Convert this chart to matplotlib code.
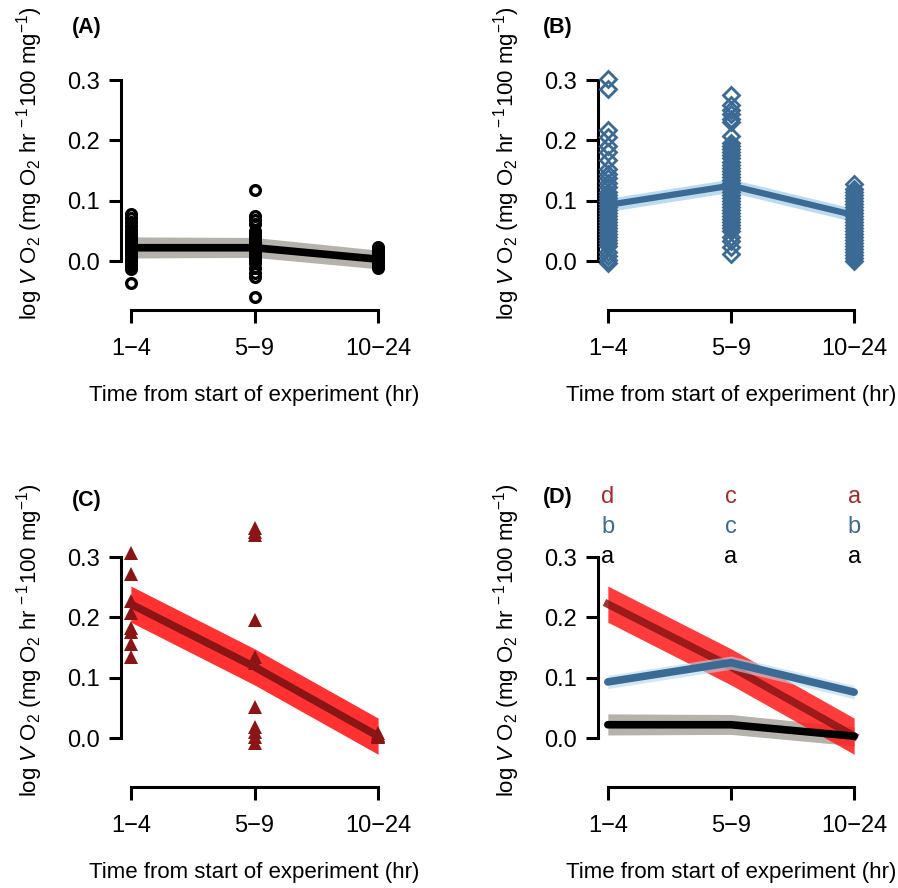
import matplotlib
matplotlib.use("Agg")
import matplotlib.pyplot as plt
import numpy as np

plt.rcParams['font.family'] = ['Liberation Sans', 'DejaVu Sans']
plt.rcParams['mathtext.fontset'] = 'custom'
plt.rcParams['mathtext.rm'] = 'Liberation Sans'
plt.rcParams['mathtext.it'] = 'Liberation Sans:italic'

# time groups
groups = ["1\u22124", "5\u22129", "10\u221224"]
xpos = [1, 2, 3]

# panel A (black, circles)
a_1 = [0.078, 0.072, 0.065, 0.058, 0.052, 0.048, 0.044, 0.040, 0.036, 0.033, 0.030, 0.027,
       0.024, 0.021, 0.018, 0.015, 0.012, 0.009, 0.006, 0.003, 0.000, -0.003, -0.006,
       -0.010, -0.014, -0.037]
a_2 = [0.118, 0.075, 0.068, 0.062, 0.050, 0.045, 0.040, 0.035, 0.030, 0.026, 0.022, 0.018,
       0.014, 0.010, 0.006, 0.002, -0.004, -0.012, -0.020, -0.026, -0.060]
a_3 = [0.024, 0.018, 0.014, 0.010, 0.006, 0.003, 0.000, -0.004, -0.008, -0.012]
a_mean = [0.022, 0.022, 0.003]
a_lo = [0.005, 0.006, -0.013]
a_hi = [0.040, 0.039, 0.018]

# panel B (blue, diamonds)
b_1 = [0.302, 0.285, 0.218, 0.205, 0.190, 0.180, 0.168, 0.152, 0.145, 0.138, 0.130, 0.122,
       0.115, 0.110, 0.105, 0.100, 0.095, 0.090, 0.085, 0.080, 0.075, 0.070, 0.065, 0.060,
       0.055, 0.050, 0.045, 0.040, 0.035, 0.030, 0.025, 0.015, 0.008, 0.002, -0.003]
b_2 = [0.275, 0.258, 0.250, 0.243, 0.236, 0.230, 0.208, 0.195, 0.190, 0.185, 0.180, 0.175,
       0.170, 0.165, 0.160, 0.155, 0.150, 0.145, 0.140, 0.135, 0.130, 0.125, 0.120, 0.115,
       0.110, 0.105, 0.100, 0.095, 0.090, 0.085, 0.080, 0.075, 0.070, 0.065, 0.060, 0.055,
       0.050, 0.040, 0.033, 0.024, 0.012]
b_3 = [0.128, 0.120, 0.115, 0.110, 0.105, 0.100, 0.095, 0.090, 0.085, 0.080, 0.075, 0.070,
       0.065, 0.060, 0.055, 0.050, 0.045, 0.040, 0.035, 0.030, 0.025, 0.020, 0.015, 0.010,
       0.005, 0.000]
b_mean = [0.093, 0.125, 0.076]
b_lo = [0.082, 0.114, 0.065]
b_hi = [0.104, 0.136, 0.087]

# panel C (red, triangles)
c_1 = [0.307, 0.272, 0.228, 0.207, 0.182, 0.176, 0.156, 0.135]
c_2 = [0.348, 0.342, 0.336, 0.196, 0.135, 0.124, 0.052, 0.019, 0.010, 0.002, -0.008]
c_3 = [0.008, 0.005, 0.003, 0.001]
c_mean = [0.222, 0.118, 0.003]
c_lo = [0.192, 0.088, -0.027]
c_hi = [0.252, 0.148, 0.033]

# significance letters for panel D
letters_red = ["d", "c", "a"]
letters_blue = ["b", "c", "b"]
letters_black = ["a", "a", "a"]

W, H = 898, 888
fig = plt.figure(figsize=(W / 100, H / 100), dpi=100)

ylo, yhi = -0.081, 0.395
ppu = 603.0  # pixels per y unit
FS = 17
LFS = 16


def make_ax(left_px, right_px, zero_px):
    bottom_px = zero_px - ylo * ppu
    top_px = zero_px - yhi * ppu
    ax = fig.add_axes([left_px / W, 1 - bottom_px / H,
                       (right_px - left_px) / W, (bottom_px - top_px) / H])
    ax.set_xlim(0.92, 3.08)
    ax.set_ylim(ylo, yhi)
    ax.patch.set_alpha(0)
    for s in ["top", "right"]:
        ax.spines[s].set_visible(False)
    ax.spines["left"].set_bounds(0, 0.3)
    ax.spines["bottom"].set_bounds(1, 3)
    for s in ["left", "bottom"]:
        ax.spines[s].set_linewidth(2.2)
    ax.set_yticks([0, 0.1, 0.2, 0.3])
    ax.set_yticklabels(["0.0", "0.1", "0.2", "0.3"])
    ax.set_xticks(xpos)
    ax.set_xticklabels(groups)
    ax.tick_params(axis="y", length=9, width=2.2, pad=6, labelsize=FS)
    ax.tick_params(axis="x", length=9, width=2.2, pad=11, labelsize=FS)
    return ax


def decorate(left_px, right_px, zero_px, tag, tagx, tagy):
    bottom_px = zero_px - ylo * ppu
    top_px = zero_px - yhi * ppu
    cx = (left_px + right_px) / 2
    fig.text(cx / W, 1 - (bottom_px + 86) / H, "Time from start of experiment (hr)",
             ha="center", va="center", fontsize=LFS)
    fig.text((left_px - 91) / W, 1 - ((bottom_px + top_px) / 2 - 3) / H,
             r"log $V$ O$_2$ (mg O$_2$ hr$^{\,-1}$100 mg$^{-1}$)",
             rotation=90, ha="center", va="center", fontsize=LFS)
    fig.text(tagx / W, 1 - tagy / H, tag, ha="left", va="center",
             fontsize=15.5, fontweight="bold")


def draw_band(ax, mean, lo, hi, fc, lc, falpha=1.0, lalpha=1.0, z=1, lw=5.5):
    ax.fill_between(xpos, lo, hi, color=fc, alpha=falpha, lw=0, zorder=z)
    ax.plot(xpos, mean, color=lc, lw=lw, alpha=lalpha, solid_capstyle="round", zorder=z + 0.5)


black_band = "#b4b2aa"
blue_line = "#3b6a94"
blue_band = "#b5d8ee"
red_band = "#ff1a1a"
red_line = "#8b1515"

# (A)
axA = make_ax(121, 388, 261)
draw_band(axA, a_mean, a_lo, a_hi, black_band, "black")
for x, vals in zip(xpos, [a_1, a_2, a_3]):
    axA.plot([x] * len(vals), vals, "o", mfc="none", mec="black", ms=7, mew=2.4,
             zorder=5, clip_on=False)
decorate(121, 388, 261, "(A)", 72, 28)

# (B)
axB = make_ax(598, 864, 261)
draw_band(axB, b_mean, b_lo, b_hi, blue_band, blue_line, falpha=0.9, lw=4.5)
for x, vals in zip(xpos, [b_1, b_2, b_3]):
    axB.plot([x] * len(vals), vals, "D", mfc="none", mec=blue_line, ms=7.8, mew=2.0,
             zorder=5, clip_on=False)
decorate(598, 864, 261, "(B)", 543, 28)

# (C)
axC = make_ax(121, 388, 738)
draw_band(axC, c_mean, c_lo, c_hi, red_band, red_line, falpha=0.9)
for x, vals in zip(xpos, [c_1, c_2, c_3]):
    axC.plot([x] * len(vals), vals, "^", color=red_line, ms=10, mew=0,
             zorder=5, clip_on=False)
decorate(121, 388, 738, "(C)", 72, 500)

# (D) all models together
axD = make_ax(598, 864, 738)
axD.fill_between(xpos, a_lo, a_hi, color=black_band, lw=0, zorder=1)
axD.fill_between(xpos, c_lo, c_hi, color=red_band, alpha=0.85, lw=0, zorder=2)
axD.plot(xpos, c_mean, color=red_line, lw=5.5, alpha=0.85, zorder=3)
axD.fill_between(xpos, b_lo, b_hi, color=blue_band, alpha=0.6, lw=0, zorder=4)
axD.plot(xpos, b_mean, color=blue_line, lw=5.5, zorder=5, solid_capstyle="round")
axD.plot(xpos, a_mean, color="black", lw=5.5, zorder=6, solid_capstyle="round")
for x, t1, t2, t3 in zip(xpos, letters_red, letters_blue, letters_black):
    axD.text(x, 0.40, t1, color="#a52a2a", ha="center", va="center", fontsize=FS, clip_on=False)
    axD.text(x, 0.35, t2, color=blue_line, ha="center", va="center", fontsize=FS, clip_on=False)
    axD.text(x, 0.30, t3, color="black", ha="center", va="center", fontsize=FS, clip_on=False)
decorate(598, 864, 738, "(D)", 543, 497)

fig.savefig("out.png", dpi=100)
